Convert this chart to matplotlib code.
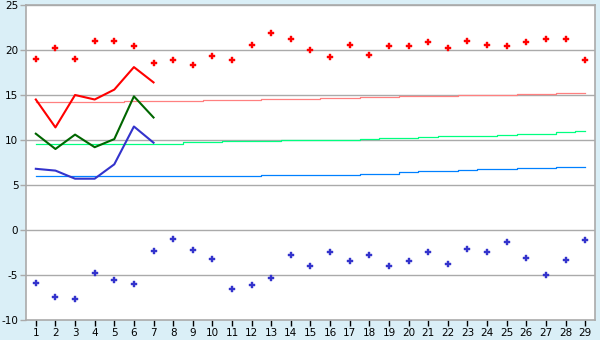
import numpy as np
import matplotlib
matplotlib.use("Agg")
import matplotlib.pyplot as plt

days = list(range(1, 30))

# рекорды (максимум / минимум)
rec_max = [19.0, 20.2, 19.0, 21.0, 21.0, 20.4, 18.6, 18.85, 18.3, 19.3,
           18.85, 20.6, 21.85, 21.2, 19.95, 19.2, 20.6, 19.5, 20.4, 20.5,
           20.85, 20.2, 21.0, 20.6, 20.4, 20.85, 21.2, 21.2, 18.85]
rec_min = [-5.93, -7.48, -7.7, -4.81, -5.59, -6.04, -2.37, -1.04, -2.26, -3.26,
           -6.59, -6.15, -5.37, -2.81, -4.04, -2.48, -3.48, -2.81, -4.04, -3.48,
           -2.48, -3.81, -2.15, -2.48, -1.37, -3.15, -5.04, -3.37, -1.15]

# фактические значения за первые дни
obs_days = [1, 2, 3, 4, 5, 6, 7]
obs_max = [14.5, 11.4, 15.0, 14.5, 15.6, 18.1, 16.4]
obs_mean = [10.7, 9.0, 10.6, 9.2, 10.1, 14.85, 12.5]
obs_min = [6.8, 6.6, 5.7, 5.7, 7.3, 11.5, 9.7]

# нормы
norm_max = [14.19] * 5 + [14.33] * 4 + [14.44] * 3 + [14.56] * 3 + [14.67] * 2 + \
           [14.78] * 2 + [14.85] * 3 + [14.96] * 3 + [15.07] * 2 + [15.19] * 2
norm_mean = [9.52] * 8 + [9.74] * 2 + [9.85] * 3 + [9.96] * 4 + [10.07] + \
            [10.19] * 2 + [10.3] + [10.4] * 2 + [10.5] + [10.6] + [10.7] * 2 + \
            [10.85] + [10.96]
norm_min = [5.97] * 12 + [6.15] * 5 + [6.26] * 2 + [6.41] + [6.52] * 2 + \
           [6.63] + [6.74] * 2 + [6.85] * 2 + [6.96] * 2

y_ticks = [-10, -5, 0, 5, 10, 15, 20, 25]
y_labels = ["-10", "-5", "0", "5", "10", "15", "20", "25"]

bg = "#daeff7"
grid = "#aaaaaa"

fig = plt.figure(figsize=(6, 3.4), dpi=100, facecolor=bg)
ax = fig.add_axes([26 / 600, 20 / 340, 569 / 600, 315 / 340])
ax.set_facecolor("white")

for v in y_ticks[1:]:
    ax.axhline(v, color=grid, lw=1.0, zorder=1)

ax.plot(days, norm_max, color="#ff8080", lw=0.9, drawstyle="steps-mid", zorder=2)
ax.plot(days, norm_mean, color="#00ff80", lw=0.9, drawstyle="steps-mid", zorder=2)
ax.plot(days, norm_min, color="#0080ff", lw=0.9, drawstyle="steps-mid", zorder=2)

ax.plot(obs_days, obs_max, color="#ff0000", lw=1.5, zorder=3)
ax.plot(obs_days, obs_mean, color="#006600", lw=1.5, zorder=3)
ax.plot(obs_days, obs_min, color="#3333cc", lw=1.5, zorder=3)

ax.plot(days, rec_max, ls="none", marker="P", ms=3.8, color="#ff0000",
        mec="#ff0000", mew=0.3, zorder=4)
ax.plot(days, rec_min, ls="none", marker="P", ms=3.8, color="#3333cc",
        mec="#3333cc", mew=0.3, zorder=4)

ax.set_xlim(0.5, 29.5)
ax.set_ylim(-10, 25)
ax.set_xticks(days)
ax.set_yticks(y_ticks)
ax.set_yticklabels(y_labels)
for s in ax.spines.values():
    s.set_color(grid)
    s.set_linewidth(1.2)
ax.tick_params(axis="both", colors="black", labelsize=7.5, length=4,
               width=1, direction="out", pad=1.5)
ax.tick_params(axis="y", color=grid)
ax.tick_params(axis="x", color="black")

fig.savefig("out.png", dpi=100, facecolor=bg)
